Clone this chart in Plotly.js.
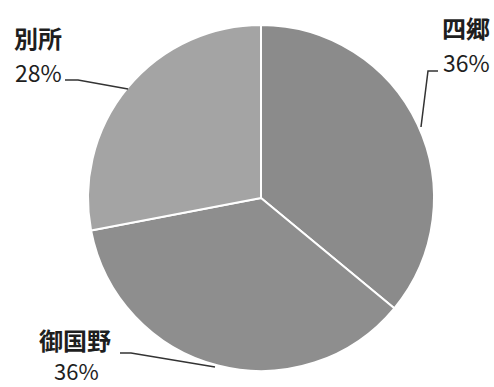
<!DOCTYPE html>
<html><head><meta charset="utf-8">
<script src="https://cdn.plot.ly/plotly-3.0.1.min.js"></script>
<style>html,body{margin:0;padding:0;background:#fff}#c{width:494px;height:387px}</style>
</head><body><div id="c"></div>
<script>
const labels = ['四郷', '御国野', '別所'];
const values = [36, 36, 28];
const colors = ['#8b8b8b', '#8e8e8e', '#a4a4a4'];

const W = 494, H = 387;
const px = x => x / W, py = y => 1 - y / H;

const fam = '"Noto Sans CJK JP", "Noto Sans", sans-serif';
const nameFont = {family: fam, size: 24, color: '#1e1e1e'};
const pctFont = {family: fam, size: 23, color: '#1e1e1e'};
const pctFontSmall = {family: fam, size: 22, color: '#1e1e1e'};
// label placement (pixel positions of text centers; null y = pinned to the bottom edge)
const labelPos = [
  {name: [466, 28], pct: [466, 62]},
  {name: [75, 339], pct: [76, null]},
  {name: [38, 37], pct: [38, 72]}
];
const leaders = [
  [[438, 71], [428, 71], [421, 127]],
  [[120, 353], [131, 353], [215, 367]],
  [[65, 80], [78, 80], [128, 89]]
];

const annotations = [];
labels.forEach((l, i) => {
  annotations.push({text: '<b>' + l + '</b>', x: px(labelPos[i].name[0]), y: py(labelPos[i].name[1]),
    xref: 'paper', yref: 'paper', xanchor: 'center', yanchor: 'middle', showarrow: false,
    font: nameFont, borderpad: 0});
  const pinned = labelPos[i].pct[1] === null;
  annotations.push({text: values[i] + '%', x: px(labelPos[i].pct[0]),
    y: pinned ? 0 : py(labelPos[i].pct[1]),
    xref: 'paper', yref: 'paper', xanchor: 'center', yanchor: pinned ? 'bottom' : 'middle',
    showarrow: false, font: pinned ? pctFontSmall : pctFont, borderpad: 0});
});
const shapes = leaders.map(pts => ({
  type: 'path', xref: 'paper', yref: 'paper',
  path: pts.map((p, k) => (k ? 'L' : 'M') + px(p[0]) + ',' + py(p[1])).join(' '),
  line: {color: '#333', width: 1.5}
}));

Plotly.newPlot('c', [{
  type: 'pie', labels: labels, values: values, sort: false, direction: 'clockwise', rotation: 0,
  marker: {colors: colors, line: {color: '#ffffff', width: 2}},
  textinfo: 'none', hoverinfo: 'none',
  domain: {x: [px(88), px(434)], y: [py(371), py(25)]}
}], {
  width: W, height: H, margin: {l: 0, r: 0, t: 0, b: 0},
  paper_bgcolor: '#fff', showlegend: false,
  annotations: annotations, shapes: shapes
}, {staticPlot: true});
</script></body></html>
